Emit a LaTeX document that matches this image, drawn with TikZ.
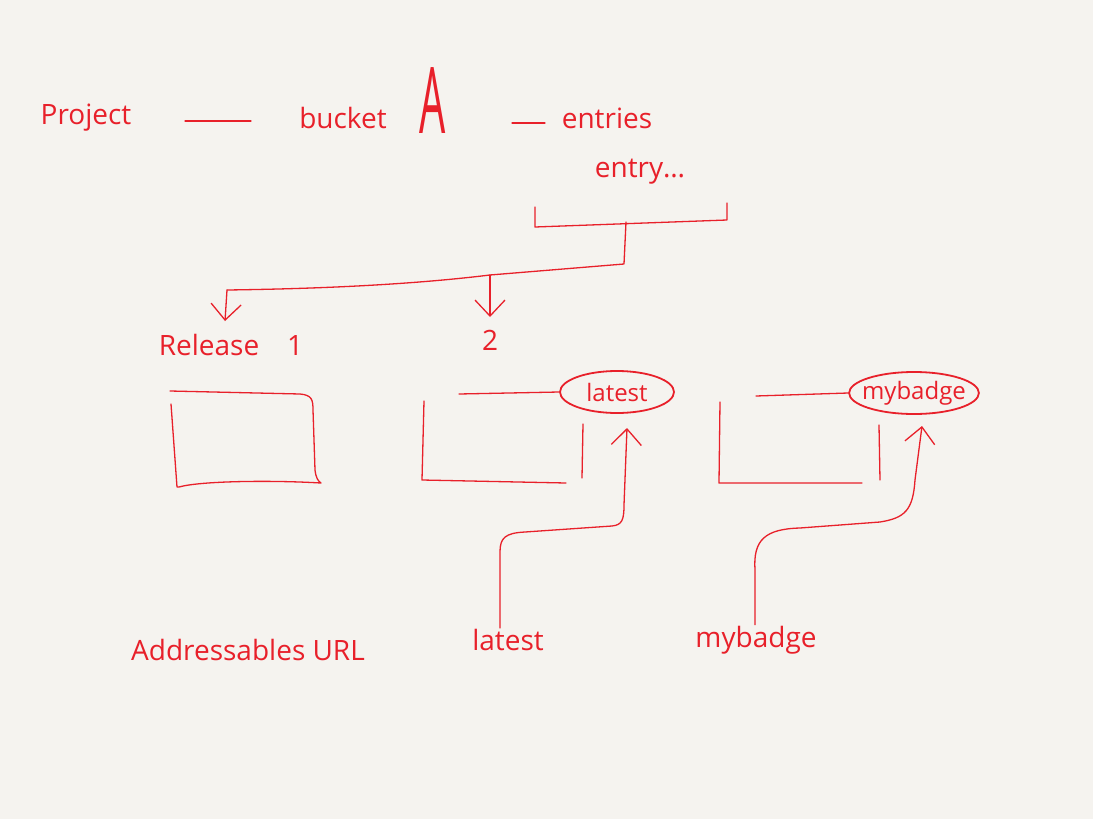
\documentclass[tikz,border=0pt]{standalone}
\usepackage{fontspec}
\setmainfont{Open Sans}
\usetikzlibrary{arrows.meta,shapes.geometric}
\definecolor{bg}{HTML}{F5F3EF}
\definecolor{ink}{HTML}{E8202A}
\begin{document}
\begin{tikzpicture}[x=1pt,y=-1pt,
  ink/.style={draw=ink,line width=1.3pt,line cap=round,line join=round},
  lbl/.style={text=ink,inner sep=1pt,font=\fontsize{28}{30}\selectfont},
  tag/.style={ellipse,draw=ink,line width=1.8pt,text=ink,inner ysep=1pt,inner xsep=-6pt,minimum width=114pt,minimum height=42pt,font=\fontsize{24}{25}\selectfont},
  barb/.style={-{Straight Barb[length=16pt,width=30pt]}}]
\fill[bg] (0,0) rectangle (1093,819);
\useasboundingbox (0,0) rectangle (1093,819);
% top row
\node[lbl] (project) at (86,118) {Project};
\node[lbl] (bucket) at (343,118) {bucket};
\node[text=ink,inner sep=0pt,font=\fontsize{46}{48}\selectfont] (bigA) at (433,101) {\scalebox{0.9}[2.0]{A}};
\node[lbl] (entries) at (607,118) {entries};
\node[lbl] (entry) at (640,172) {entry\ldots};
\coordinate (d1a) at (185,121); \coordinate (d1b) at (251,121);
\coordinate (d2a) at (512,123); \coordinate (d2b) at (545,123);
\draw[ink] (d1a) -- (d1b);
\draw[ink] (d2a) -- (d2b);
% bracket
\coordinate (brL) at (535,207); \coordinate (brBL) at (535,227);
\coordinate (brBR) at (727,220); \coordinate (brR) at (727,203);
\coordinate (brM) at (626,222);
\draw[ink] (brL) -- (brBL) -- (brBR) -- (brR);
\coordinate (tk) at (624,264);
\coordinate (split) at (490,275);
\coordinate (leftTop) at (227,290);
\draw[ink] (brM) -- (tk) -- (split) .. controls (400,286) and (300,289) .. (leftTop);
\node[lbl] (rel1) at (231,345) {Release\hspace{28pt}1};
\node[lbl] (rel2) at (490,340) {2};
\draw[ink,barb] (leftTop) -- (225,321);
\draw[ink,barb] (split) -- (490,317);
% box 1
\coordinate (b1tl) at (170,391);
\draw[ink] (b1tl) -- (300,394) .. controls (312,395) and (313,400) .. (313,410) -- (315,470) .. controls (316,478) and (318,481) .. (321,483)
  .. controls (270,480) and (200,481) .. (179,487) -- (177,487) -- (171,404);
% box 2
\node[tag] (latest) at (617,392) {latest};
\coordinate (b2t) at (459,394);
\draw[ink] (b2t) -- (latest.west);
\draw[ink] (424,401) -- (422,480) -- (566,483);
\draw[ink] (583,424) -- (582,478);
% box 3
\node[tag] (mybadge) at (914,393) {mybadge};
\coordinate (b3t) at (756,396);
\draw[ink] (b3t) -- (mybadge.west);
\draw[ink] (720,402) -- (719,483) -- (862,483);
\draw[ink] (879,425) -- (880,480);
% bottom labels
\node[lbl] (addr) at (248,650) {Addressables URL};
\node[lbl] (lblLatest) at (508,640) {latest};
\node[lbl] (lblBadge) at (756,640) {mybadge};
% arrows up
\draw[ink,barb] (lblLatest.north -| 500,0) -- (500,552) .. controls (500,538) and (505,533) .. (525,532)
  -- (612,526) .. controls (622,525) and (624,520) .. (624,505) -- (627,428);
\draw[ink,barb] (lblBadge.north -| 755,0) -- (755,570) .. controls (753,540) and (765,529) .. (800,528)
  -- (880,522) .. controls (905,518) and (913,510) .. (915,480) -- (922,426);
\end{tikzpicture}
\end{document}
